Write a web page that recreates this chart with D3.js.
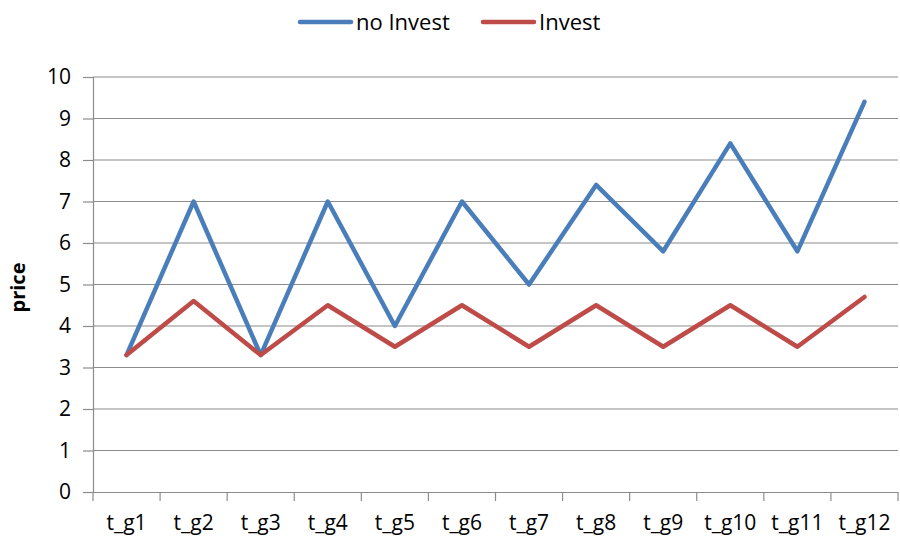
<!DOCTYPE html>
<html><head><meta charset="utf-8">
<script src="https://cdn.jsdelivr.net/npm/d3@7"></script>
<style>body{margin:0;background:#fff;} text{font-family:"Open Sans",sans-serif;fill:#000;}</style>
</head><body>
<svg id="c" width="900" height="543"></svg>
<script>
const categories = ["t_g1","t_g2","t_g3","t_g4","t_g5","t_g6","t_g7","t_g8","t_g9","t_g10","t_g11","t_g12"];
const noInvest = [3.3,7,3.3,7,4,7,5,7.4,5.8,8.4,5.8,9.4];
const invest = [3.3,4.6,3.3,4.5,3.5,4.5,3.5,4.5,3.5,4.5,3.5,4.7];
const yTicks = [0,1,2,3,4,5,6,7,8,9,10];
const seriesNames = ["no Invest","Invest"];
const colors = ["#4A7EBB","#BE4B48"];

const svg = d3.select("#c");
const L=93, R=898, T=77, B=492;
const x = d3.scaleBand().domain(categories).range([L,R]);
const y = d3.scaleLinear().domain([0,10]).range([B,T]);

// gridlines
svg.append("g").selectAll("line").data(yTicks.filter(d=>d>0)).join("line")
  .attr("x1",L).attr("x2",R).attr("y1",d=>y(d)).attr("y2",d=>y(d))
  .attr("stroke","#8c8c8c").attr("stroke-width",1.2);

// y axis
const ya = svg.append("g").attr("transform",`translate(${L},0)`)
  .call(d3.axisLeft(y).tickValues(yTicks).tickSize(10).tickPadding(12).tickFormat(d3.format("d")));
ya.select(".domain").attr("stroke","#8c8c8c").attr("stroke-width",1.2);
ya.selectAll(".tick line").attr("stroke","#8c8c8c").attr("stroke-width",1.2);
ya.selectAll("text").style("font-size","21px").style("font-family","Open Sans");

// x axis
const xa = svg.append("g").attr("transform",`translate(0,${B})`)
  .call(d3.axisBottom(x).tickSize(0).tickPadding(23));
xa.select(".domain").attr("stroke","#8c8c8c").attr("stroke-width",1.2);
xa.selectAll("text").style("font-size","21px").style("font-family","Open Sans");
// x tick marks at band boundaries
const bounds = categories.map(c=>x(c)).concat([R]);
svg.append("g").selectAll("line").data(bounds).join("line")
  .attr("x1",d=>d).attr("x2",d=>d).attr("y1",B).attr("y2",B+9)
  .attr("stroke","#8c8c8c").attr("stroke-width",1.2);

// y label
svg.append("text").attr("transform",`translate(25,${(T+B)/2+3}) rotate(-90)`)
  .attr("text-anchor","middle").style("font-size","20px").style("font-weight","bold").text("price");

// lines
const line = d3.line().x((d,i)=>x(categories[i])+x.bandwidth()/2).y(d=>y(d));
[noInvest,invest].forEach((s,i)=>{
  svg.append("path").datum(s).attr("d",line).attr("fill","none")
    .attr("stroke",colors[i]).attr("stroke-width",4.5).attr("stroke-linejoin","round").attr("stroke-linecap","round");
});

// legend
const leg = [{x:300,tx:356},{x:483,tx:539}];
seriesNames.forEach((n,i)=>{
  svg.append("line").attr("x1",leg[i].x).attr("x2",leg[i].x+51).attr("y1",22).attr("y2",22)
    .attr("stroke",colors[i]).attr("stroke-width",4.5).attr("stroke-linecap","round");
  svg.append("text").attr("x",leg[i].tx).attr("y",30).style("font-size","22px").text(n);
});
</script>
</body></html>
